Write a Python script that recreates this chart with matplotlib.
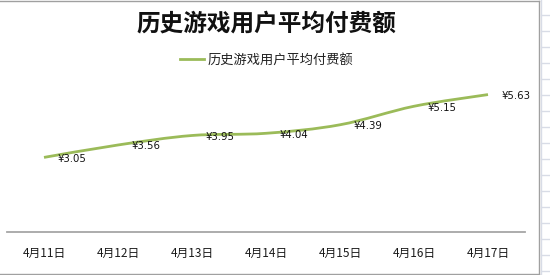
import matplotlib
matplotlib.use('Agg')
import matplotlib.pyplot as plt
from matplotlib.path import Path
from matplotlib.patches import PathPatch
from matplotlib.lines import Line2D
import numpy as np

plt.rcParams['font.family'] = ['Noto Sans CJK SC', 'DejaVu Sans']

dates = ['4月11日', '4月12日', '4月13日', '4月14日', '4月15日', '4月16日', '4月17日']
avg_pay = [3.05, 3.56, 3.95, 4.04, 4.39, 5.15, 5.63]
series_name = '历史游戏用户平均付费额'
title = '历史游戏用户平均付费额'

green = '#9BBB59'

fig = plt.figure(figsize=(5.5, 2.75), dpi=100)
fig.patch.set_facecolor('white')
ax = fig.add_axes([7 / 550, 43.3 / 275, 518 / 550, 170.5 / 275])
ax.set_facecolor('none')

x = np.arange(len(dates))
y = np.array(avg_pay)

# smoothed line (cubic bezier through the points, like Excel's smoothed line)
verts = [(x[0], y[0])]
codes = [Path.MOVETO]
n = len(x)
for i in range(n - 1):
    p0 = np.array([x[max(i - 1, 0)], y[max(i - 1, 0)]])
    p1 = np.array([x[i], y[i]])
    p2 = np.array([x[i + 1], y[i + 1]])
    p3 = np.array([x[min(i + 2, n - 1)], y[min(i + 2, n - 1)]])
    c1 = p1 + (p2 - p0) / 6
    c2 = p2 - (p3 - p1) / 6
    verts += [tuple(c1), tuple(c2), tuple(p2)]
    codes += [Path.CURVE4] * 3
ax.add_patch(PathPatch(Path(verts, codes), facecolor='none', edgecolor=green,
                       lw=2.0, capstyle='butt', joinstyle='round'))
# handle for the legend
line_handle = Line2D([], [], color=green, lw=2.0, label=series_name)

for xi, yi in zip(x, y):
    ax.annotate('¥%.2f' % yi, (xi, yi), xytext=(10, -1), textcoords='offset points',
                ha='left', va='center', fontsize=7.3, family='DejaVu Sans', color='#111111')

ax.set_xlim(-0.5, len(dates) - 0.5)
ax.set_ylim(0, 7)
ax.set_xticks(x)
ax.set_xticklabels(dates, fontsize=8.5, fontweight='medium', color='#1a1a1a')
ax.tick_params(axis='x', length=0, pad=11)
ax.set_yticks([])
for s in ['top', 'right', 'left']:
    ax.spines[s].set_visible(False)
ax.spines['bottom'].set_color('#A6A6A6')
ax.spines['bottom'].set_linewidth(1.3)

fig.text(266 / 550, 1 - 24 / 275, title, ha='center', va='center',
         fontsize=17, fontweight='semibold', color='#111111')

fig.legend(handles=[line_handle], loc='center', bbox_to_anchor=(267 / 550, 1 - 60 / 275),
           frameon=False, fontsize=9.5, handlelength=1.8, handletextpad=0.3,
           labelcolor='#222222')

# chart border and spreadsheet edge
border = '#A0A0A0'
fig.add_artist(Line2D([0, 539 / 550], [1 - 1 / 275, 1 - 1 / 275], color=border, lw=1))
fig.add_artist(Line2D([539 / 550, 539 / 550], [1 - 1 / 275, 1 - 274 / 275], color=border, lw=1))
fig.add_artist(Line2D([0, 539 / 550], [1 - 274 / 275, 1 - 274 / 275], color=border, lw=1))
fig.add_artist(Line2D([541 / 550, 541 / 550], [0, 1], color='#D8DCE6', lw=1))
for gy in np.arange(15, 275, 16):
    fig.add_artist(Line2D([541 / 550, 1], [1 - gy / 275, 1 - gy / 275], color='#D8DCE6', lw=1))

fig.savefig('out.png', dpi=100)
